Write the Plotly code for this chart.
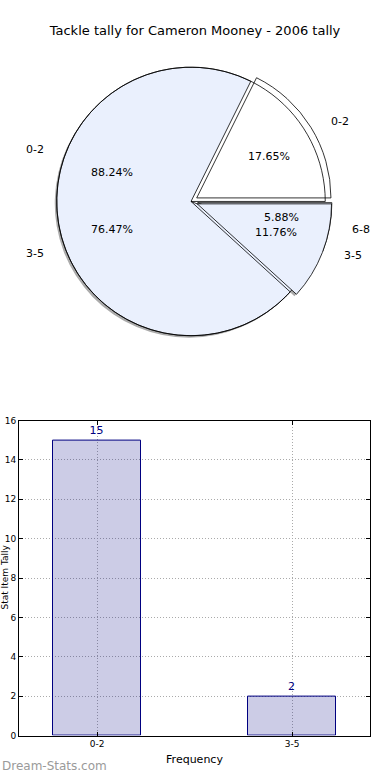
import math
import plotly.graph_objects as go

# ---------------- data ----------------
title_text = "Tackle tally for Cameron Mooney - 2006 tally"
pie_a_labels = ["0-2", "3-5"]
pie_a_values = [15, 2]
pie_b_labels = ["0-2", "3-5", "6-8"]
pie_b_values = [3, 13, 1]
bar_categories = ["0-2", "3-5"]
bar_values = [15, 2]
y_ticks = [0, 2, 4, 6, 8, 10, 12, 14, 16]
x_title = "Frequency"
y_title = "Stat Item Tally"
watermark = "Dream-Stats.com"

# ---------------- styles ----------------
W, H = 390, 780
FONT = "DejaVu Sans"
LIGHT = "#EAF0FD"
CLEAR = "rgba(0,0,0,0)"
SHADOW = "rgba(0,0,0,0.33)"
cx, cy = 191, 199          # pie centre (px)
R = 136                    # pie radius (px)
PULL = 0.05
rx, ry = 141, 133          # text placement radii (px)

def px_x(x):
    return x / W

def px_y(y):
    return 1 - y / H

def pie_domain(dx=0, dy=0):
    half = R * (1 + PULL)
    return dict(x=[px_x(cx + dx - half), px_x(cx + dx + half)],
                y=[px_y(cy + dy + half), px_y(cy + dy - half)])

def start_rotation(values):
    # make the first slice begin at 3 o'clock and run counter-clockwise
    return 90 - 360 * values[0] / sum(values)

fig = go.Figure()

common = dict(sort=False, direction="counterclockwise",
              textinfo="none", hoverinfo="skip", showlegend=False)

rot_a = start_rotation(pie_a_values)
rot_b = start_rotation(pie_b_values)

# shadows
fig.add_trace(go.Pie(labels=pie_a_labels, values=pie_a_values, pull=[0, PULL], rotation=rot_a,
                     marker=dict(colors=[CLEAR, SHADOW], line=dict(width=0)),
                     domain=pie_domain(-2, 2), **common))
fig.add_trace(go.Pie(labels=pie_b_labels, values=pie_b_values, pull=[PULL, 0, PULL], rotation=rot_b,
                     marker=dict(colors=[CLEAR, SHADOW, SHADOW], line=dict(width=0)),
                     domain=pie_domain(-2, 2), **common))
# pie B
fig.add_trace(go.Pie(labels=pie_b_labels, values=pie_b_values, pull=[PULL, 0, PULL], rotation=rot_b,
                     marker=dict(colors=["white", LIGHT, LIGHT],
                                 line=dict(color="black", width=0.8)),
                     domain=pie_domain(), **common))
# pie A (on top)
fig.add_trace(go.Pie(labels=pie_a_labels, values=pie_a_values, pull=[0, PULL], rotation=rot_a,
                     marker=dict(colors=[CLEAR, LIGHT],
                                 line=dict(color="black", width=[0.8, 0.8])),
                     domain=pie_domain(), **common))

annotations = []

def pie_texts(labels, values, explode):
    total = sum(values)
    start = 0.0
    for lab, v, e in zip(labels, values, explode):
        frac = v / total
        th = 2 * math.pi * (start + frac / 2)
        start += frac
        c, s = math.cos(th), math.sin(th)
        lx = cx + (1.1 + e) * rx * c
        ly = cy - (1.1 + e) * ry * s
        annotations.append(dict(x=px_x(lx), y=px_y(ly), xref="paper", yref="paper",
                                text=lab, showarrow=False,
                                xanchor="left" if c > 0 else "right", yanchor="middle",
                                font=dict(family=FONT, size=11, color="black")))
        tx = cx + (0.6 + e) * rx * c
        ty = cy - (0.6 + e) * ry * s
        annotations.append(dict(x=px_x(tx), y=px_y(ty), xref="paper", yref="paper",
                                text=f"{100 * frac:.2f}%", showarrow=False,
                                xanchor="center", yanchor="middle",
                                font=dict(family=FONT, size=11, color="black")))

pie_texts(pie_a_labels, pie_a_values, [0, 0.05])
pie_texts(pie_b_labels, pie_b_values, [0.05, 0, 0.05])

# ---------------- bar chart ----------------
fig.add_trace(go.Bar(x=bar_categories, y=bar_values, width=0.45,
                     marker=dict(color="rgba(0,0,128,0.2)", line=dict(color="#000080", width=1)),
                     text=[str(v) for v in bar_values], textposition="outside",
                     textfont=dict(family=FONT, size=11, color="#000080"),
                     cliponaxis=False, hoverinfo="skip", showlegend=False,
                     xaxis="x", yaxis="y"))

annotations.append(dict(x=px_x(5), y=px_y(580), xref="paper", yref="paper",
                        text=y_title, textangle=-90, showarrow=False,
                        xanchor="center", yanchor="middle",
                        font=dict(family=FONT, size=9, color="black")))
annotations.append(dict(x=0, y=px_y(771), xref="paper", yref="paper",
                        text=watermark, showarrow=False,
                        xanchor="left", yanchor="middle",
                        font=dict(family=FONT, size=12, color="#9a9a9a")))

axis_common = dict(showline=True, linecolor="black", linewidth=1, mirror="allticks",
                   ticks="inside", ticklen=4, tickcolor="black",
                   showgrid=True, gridcolor="#aaaaaa", griddash="1px,2px", gridwidth=1,
                   zeroline=False, tickfont=dict(family=FONT, size=9, color="black"))

fig.update_layout(
    width=W, height=H, margin=dict(l=0, r=0, t=0, b=0),
    paper_bgcolor="white", plot_bgcolor="white",
    title=dict(text=title_text, x=0.5, xanchor="center", y=px_y(30), yanchor="middle",
               font=dict(family=FONT, size=13, color="black")),
    xaxis=dict(domain=[px_x(19), px_x(370)], anchor="y", range=[-0.4, 1.4],
               title=dict(text=x_title, standoff=6, font=dict(family=FONT, size=11, color="black")),
               **axis_common),
    yaxis=dict(domain=[px_y(740), px_y(421)], anchor="x", range=[0, 16],
               tickvals=y_ticks, **axis_common),
    annotations=annotations,
    bargap=0,
)

fig.write_html("out.html", config={"displayModeBar": False},
               post_script="document.body.style.margin='0px';")
